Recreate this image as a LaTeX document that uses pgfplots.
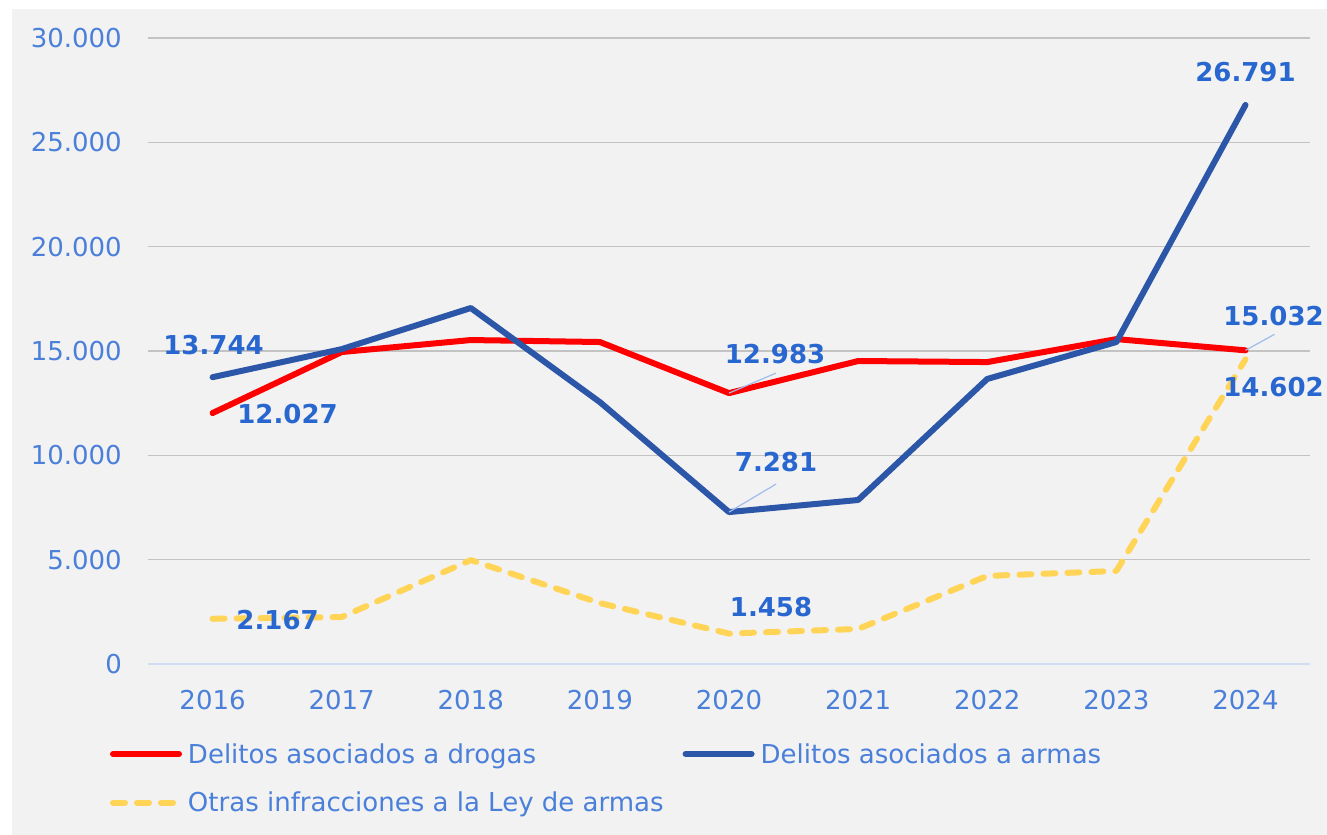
\documentclass[border=0pt]{standalone}
\usepackage{pgfplots}
\pgfplotsset{compat=1.18}
\usepackage{fontspec}
\setmainfont{DejaVu Sans}
\definecolor{bg}{HTML}{F2F2F2}
\definecolor{gridc}{HTML}{C3C3C3}
\definecolor{axisc}{HTML}{D0DDF3}
\definecolor{tickblue}{HTML}{4A7FDA}
\definecolor{lblblue}{HTML}{2866D0}
\definecolor{redl}{HTML}{FF0000}
\definecolor{bluel}{HTML}{2C56A8}
\definecolor{yell}{HTML}{FFD457}
\definecolor{leader}{HTML}{A0BCEB}
\newcommand{\bigf}{\fontsize{26bp}{31bp}\selectfont}
\begin{document}
\begin{tikzpicture}
\useasboundingbox (-148bp,-171bp) rectangle (1179bp,664bp);
\fill[white] (-148bp,-171bp) rectangle (1179bp,664bp);
\fill[bg] (-136bp,-171bp) rectangle (1179bp,655bp);
\begin{axis}[
  at={(0,0)}, anchor=south west,
  scale only axis, width=1162bp, height=626bp,
  xmin=2015.5, xmax=2024.5, ymin=0, ymax=30000,
  scaled y ticks=false,
  xtick={2016,2017,2018,2019,2020,2021,2022,2023,2024},
  xticklabels={2016,2017,2018,2019,2020,2021,2022,2023,2024},
  ytick={0,5000,10000,15000,20000,25000,30000},
  yticklabels={0,5.000,10.000,15.000,20.000,25.000,30.000},
  ymajorgrids, grid style={gridc, line width=1.3bp},
  axis line style={draw=none},
  major tick length=0pt,
  tick label style={font=\bigf, text=tickblue, inner sep=0pt},
  yticklabel style={anchor=east, xshift=-26bp},
  xticklabel style={anchor=center, yshift=-36bp},
  clip=false,
  legend columns=2,
  legend style={at={(-41bp,-115bp)}, anchor=west, draw=none, fill=none,
    inner sep=0pt, outer sep=0pt, font=\bigf, text=tickblue,
    row sep=26bp,
    nodes={inner sep=0pt, anchor=base west},
    /tikz/every even column/.append style={column sep=16bp}},
  legend cell align=left,
  legend image code/.code={\draw[#1, line cap=round] (3bp,9bp) -- (69bp,9bp); \path (0bp,0bp) (75bp,9bp);},
]
\draw[axisc, line width=1.3bp] (rel axis cs:0,0) -- (rel axis cs:1,0);
\addplot[redl, line width=6bp, line cap=round, line join=round] coordinates {
 (2016,12027) (2017,14950) (2018,15525) (2019,15430) (2020,12983) (2021,14520) (2022,14470) (2023,15570) (2024,15032)};
\addlegendentry{Delitos asociados a drogas}
\addplot[bluel, line width=6bp, line cap=round, line join=round] coordinates {
 (2016,13744) (2017,15090) (2018,17060) (2019,12550) (2020,7281) (2021,7860) (2022,13660) (2023,15430) (2024,26791)};
\addlegendentry{Delitos asociados a armas}
\addplot[yell, line width=6bp, line cap=round, line join=round, dash pattern=on 12bp off 12bp] coordinates {
 (2016,2167) (2017,2250) (2018,4980) (2019,2920) (2020,1458) (2021,1680) (2022,4220) (2023,4460) (2024,14602)};
\addlegendentry{Otras infracciones a la Ley de armas}
% leader lines
\draw[leader, line width=1.2bp] (axis cs:2020,12983) -- ++(47bp,20bp);
\draw[leader, line width=1.2bp] (axis cs:2020,7281) -- ++(47bp,28bp);
\draw[leader, line width=1.2bp] (axis cs:2024,15032) -- ++(29bp,16bp);
% data labels
\begin{scope}[every node/.style={font=\bigf\bfseries, text=lblblue, inner sep=0pt, anchor=center}]
\node[xshift=1bp, yshift=32bp] at (axis cs:2016,13744) {13.744};
\node[xshift=75bp, yshift=-1bp] at (axis cs:2016,12027) {12.027};
\node[xshift=65bp, yshift=-1bp] at (axis cs:2016,2167) {2.167};
\node[xshift=46bp, yshift=39bp] at (axis cs:2020,12983) {12.983};
\node[xshift=47bp, yshift=50bp] at (axis cs:2020,7281) {7.281};
\node[xshift=42bp, yshift=27bp] at (axis cs:2020,1458) {1.458};
\node[xshift=0bp, yshift=33bp] at (axis cs:2024,26791) {26.791};
\node[xshift=28bp, yshift=34bp] at (axis cs:2024,15032) {15.032};
\node[xshift=28bp, yshift=-28bp] at (axis cs:2024,14602) {14.602};
\end{scope}
\end{axis}
\end{tikzpicture}
\end{document}
